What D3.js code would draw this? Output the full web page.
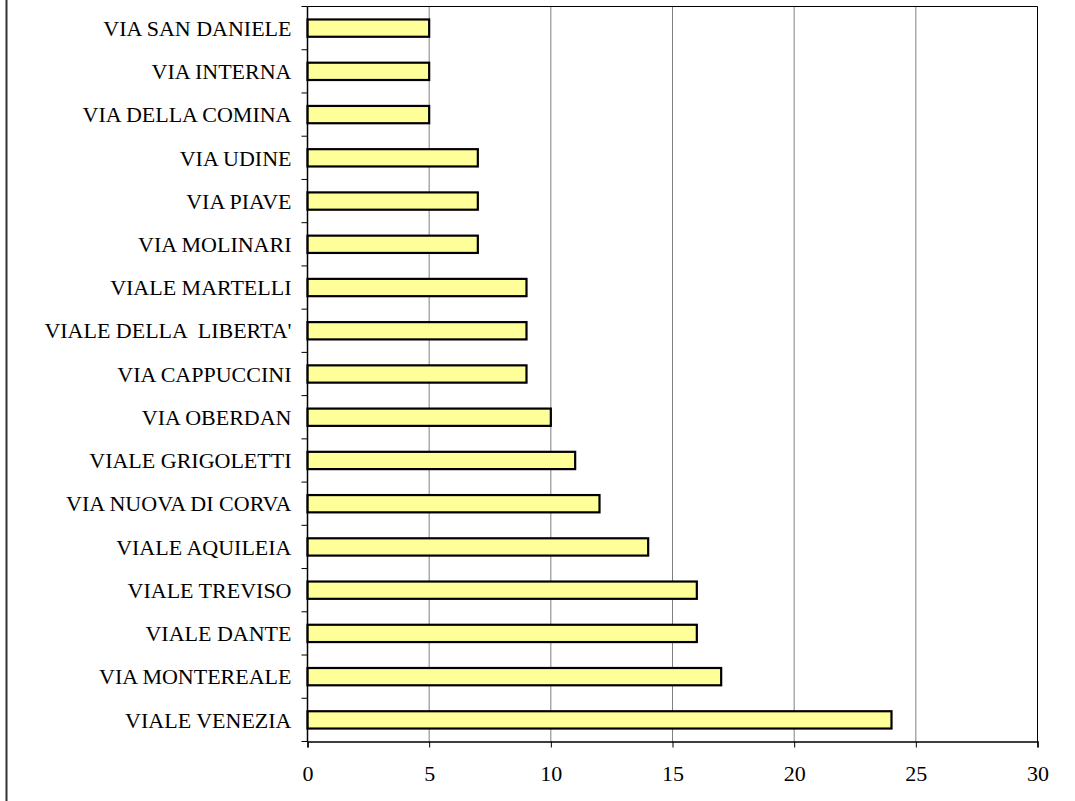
<!DOCTYPE html>
<html><head><meta charset="utf-8">
<script src="https://cdn.jsdelivr.net/npm/d3@7"></script>
<style>body{margin:0;background:#fff}svg{display:block}</style>
</head><body>
<svg id="c" width="1075" height="801"></svg>
<script>
const categories = ["VIA SAN DANIELE","VIA INTERNA","VIA DELLA COMINA","VIA UDINE","VIA PIAVE","VIA MOLINARI","VIALE MARTELLI","VIALE DELLA  LIBERTA'","VIA CAPPUCCINI","VIA OBERDAN","VIALE GRIGOLETTI","VIA NUOVA DI CORVA","VIALE AQUILEIA","VIALE TREVISO","VIALE DANTE","VIA MONTEREALE","VIALE VENEZIA"];
const values = [5,5,5,7,7,7,9,9,9,10,11,12,14,16,16,17,24];
const xTicks = [0,5,10,15,20,25,30];

const svg = d3.select("#c");
const L = 307.5, R = 1037.5, T = 6.5, B = 741.5;
const x = d3.scaleLinear().domain([0,30]).range([L,R]);
const y = d3.scaleBand().domain(categories).range([T,B]).paddingInner(0.6).paddingOuter(0.3);
const yb = d3.scaleBand().domain(categories).range([T,B]);
const FONT = "'Liberation Serif','Times New Roman',serif";

svg.append("line").attr("x1",6.5).attr("x2",6.5).attr("y1",0).attr("y2",801).attr("stroke","#333").attr("stroke-width",2);

// gridlines
svg.append("g").selectAll("line").data(xTicks.slice(1)).join("line")
  .attr("x1",d=>x(d)).attr("x2",d=>x(d)).attr("y1",T).attr("y2",B)
  .attr("stroke","#808080").attr("stroke-width",1);
// plot frame top/right
svg.append("path").attr("d",`M${L},${T}H${R}V${B}`).attr("fill","none").attr("stroke","#000").attr("stroke-width",1);

// bars
svg.append("g").selectAll("rect").data(values).join("rect")
  .attr("x",x(0)).attr("y",(d,i)=>y(categories[i]))
  .attr("width",d=>x(d)-x(0)).attr("height",y.bandwidth())
  .attr("fill","#FFFF99").attr("stroke","#000").attr("stroke-width",2.2);

// x axis
const xa = svg.append("g").attr("transform",`translate(0,${B})`)
  .call(d3.axisBottom(x).tickValues(xTicks).tickSize(6).tickPadding(18).tickFormat(d3.format("d")));
xa.select(".domain").attr("stroke","#000").attr("stroke-width",1.5);
xa.selectAll(".tick line").attr("stroke","#000");
xa.selectAll("text").attr("font-family",FONT).attr("font-size",22).attr("fill","#000");

// y axis
const ya = svg.append("g").attr("transform",`translate(${L},0)`);
ya.append("line").attr("x1",0).attr("x2",0).attr("y1",T).attr("y2",B).attr("stroke","#000").attr("stroke-width",1.5);
const edges = categories.map(c=>yb(c)).concat([B]);
ya.selectAll(".tk").data(edges).join("line").attr("class","tk")
  .attr("x1",-6).attr("x2",0).attr("y1",d=>d).attr("y2",d=>d).attr("stroke","#000");
ya.selectAll("text").data(categories).join("text")
  .attr("x",-16).attr("y",d=>yb(d)+yb.bandwidth()/2).attr("dy","0.35em")
  .attr("text-anchor","end").attr("font-family",FONT)
  .attr("font-size",22).attr("fill","#000").style("white-space","pre").text(d=>d);
</script>
</body></html>
